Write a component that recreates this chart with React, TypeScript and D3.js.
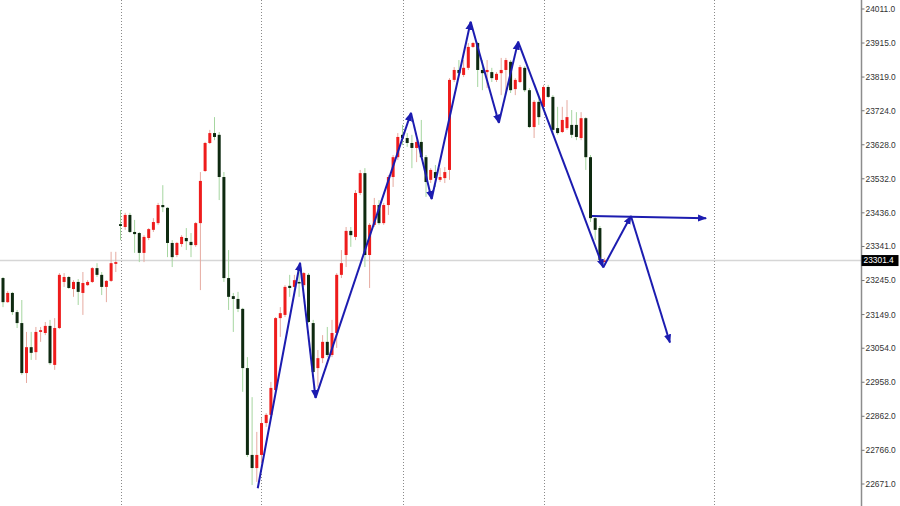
import React from "react";
import * as d3 from "d3";

// OHLC candles (one per bar, left to right)
const opens = [23252,23184,23210,23156,23125,22984,23057,23043,23100,23097,23117,23007,23111,23241,23255,23221,23241,23210,23232,23241,23280,23261,23227,23244,23292,
23404,23396,23430,23382,23379,23323,23365,23388,23407,23458,23450,23351,23317,23348,23365,23354,23345,23407,23554,23633,23661,23656,23537,23252,23201,23193,23165,22998,22753,22716,
22753,22843,22866,22936,23139,23148,23230,23227,23241,23232,23261,23125,22998,23026,23072,23035,23097,23261,23317,23385,23368,23492,23548,23317,23402,23458,23407,23458,23537,23593,
23656,23647,23633,23619,23636,23593,23529,23551,23529,23534,23557,23811,23839,23825,23845,23904,23915,23839,23833,23833,23811,23830,23839,23862,23785,23805,23845,23782,23678,23749,
23735,23791,23763,23675,23664,23675,23684,23684,23647,23703,23593,23421,23393,23300];
const highs = [23255,23215,23213,23162,23190,23100,23100,23114,23114,23128,23134,23139,23266,23266,23258,23246,23249,23269,23246,23283,23294,23269,23246,23326,23326,
23444,23436,23436,23416,23382,23373,23393,23421,23464,23514,23452,23359,23354,23373,23393,23379,23410,23551,23636,23670,23706,23664,23551,23331,23210,23213,23168,23029,22916,22818,
22857,22871,22959,23142,23170,23232,23261,23261,23283,23269,23266,23134,23049,23091,23114,23134,23266,23331,23396,23396,23500,23557,23562,23407,23478,23472,23464,23543,23599,23661,
23684,23661,23656,23641,23698,23599,23562,23571,23562,23565,23816,23847,23867,23867,23915,23918,23918,23867,23867,23845,23833,23873,23873,23867,23816,23853,23850,23788,23754,23760,
23797,23797,23768,23735,23735,23754,23726,23720,23720,23706,23599,23427,23399,23309];
const lows = [23170,23182,23148,23111,22979,22956,23021,23021,23072,23091,23007,22993,23108,23227,23221,23199,23176,23148,23230,23238,23255,23204,23184,23241,23269,
23359,23388,23379,23323,23297,23297,23359,23382,23402,23438,23311,23283,23311,23340,23331,23311,23340,23218,23551,23630,23641,23472,23241,23162,23100,23156,22931,22747,22668,22677,
22730,22832,22860,22931,23086,23142,23199,23213,23199,23227,23125,22984,22945,23012,23029,23029,23055,23252,23283,23340,23359,23486,23283,23224,23396,23402,23402,23430,23509,23585,
23627,23622,23562,23579,23591,23481,23520,23509,23523,23520,23529,23805,23825,23819,23839,23901,23791,23782,23788,23805,23805,23768,23777,23774,23768,23802,23777,23675,23647,23684,
23732,23760,23664,23656,23661,23670,23647,23641,23641,23557,23410,23359,23294,23297];
const closes = [23184,23210,23156,23125,22984,23057,23041,23100,23105,23117,23012,23111,23261,23255,23224,23241,23213,23238,23241,23280,23261,23227,23244,23294,23297,
23399,23430,23382,23376,23323,23368,23390,23410,23458,23452,23351,23311,23351,23368,23356,23345,23407,23526,23633,23661,23650,23537,23252,23199,23193,23165,22998,22753,22716,22753,
22843,22866,22942,23139,23153,23227,23224,23246,23238,23266,23128,22987,23026,23072,23035,23097,23261,23294,23385,23373,23492,23548,23317,23402,23458,23407,23458,23537,23593,23650,
23647,23633,23619,23636,23593,23523,23557,23534,23537,23551,23811,23839,23830,23845,23904,23915,23839,23830,23839,23816,23828,23839,23867,23782,23811,23847,23782,23678,23749,23706,
23791,23763,23670,23661,23698,23706,23656,23650,23703,23593,23421,23388,23303,23301.4];

// Zigzag pattern drawn over the candles: [bar index, price]
const zigzagIdx = [54.2, 63.2, 66.5, 86.8, 91.2, 99.5, 105.5, 109.6, 127.7, 133.6, 141.9];
const zigzagPrice = [22659, 23295, 22914, 23718, 23475, 23975, 23690, 23919, 23282, 23427, 23070];
// Horizontal projection line
const levelIdx = [125.3, 149.6];
const levelPrice = [23427, 23421];

// Axis labels and separators
const tickValues = [24011, 23915, 23819, 23724, 23628, 23532, 23436, 23341, 23245, 23149, 23054, 22958, 22862, 22766, 22671];
const separatorIdx = [25, 55, 85, 115, 151.3];
const lastPrice = 23301.4;

const W = 900;
const H = 506;

export default function App() {
  const x = d3.scaleLinear().domain([0, 150]).range([3, 708]);
  const y = d3.scaleLinear().domain([22671, 24011]).range([484, 9]);
  const axisX = 861.5;
  const bodyW = 3;
  const blue = "#1c1cb0";

  const candles = opens.map((o, i) => ({ o, h: highs[i], l: lows[i], c: closes[i], i }));

  const zz = zigzagIdx.map((d, i) => [x(d), y(zigzagPrice[i])] as [number, number]);

  return (
    <svg width={W} height={H} style={{ position: "absolute", left: 0, top: 0, background: "#fff" }}>
      <defs>
        <marker id="arr" markerUnits="userSpaceOnUse" viewBox="0 -5 10 10" refX="9" refY="0" markerWidth="9" markerHeight="9" orient="auto">
          <path d="M0,-4L10,0L0,4Z" fill={blue} />
        </marker>
      </defs>
      {/* separators */}
      {separatorIdx.map((s, k) => (
        <line key={"s" + k} x1={Math.round(x(s)) + 0.5} x2={Math.round(x(s)) + 0.5} y1={0} y2={H} stroke="#8a8a8a" strokeWidth={1} strokeDasharray="1 2" />
      ))}
      {/* last price line */}
      <line x1={0} x2={axisX} y1={y(lastPrice)} y2={y(lastPrice)} stroke="#d6d6d6" strokeWidth={1.5} />
      {/* candles */}
      {candles.map((d) => {
        const up = d.c >= d.o;
        const cx = x(d.i);
        const top = y(Math.max(d.o, d.c));
        const bot = y(Math.min(d.o, d.c));
        return (
          <g key={d.i}>
            <line x1={cx} x2={cx} y1={y(d.h)} y2={y(d.l)} stroke={up ? "#e6aaa0" : "#a6d6a0"} strokeWidth={1} />
            <rect x={cx - bodyW / 2} y={top} width={bodyW} height={Math.max(1.5, bot - top)} fill={up ? "#ee1c1c" : "#0e2a10"} />
          </g>
        );
      })}
      {/* zigzag */}
      {zz.slice(1).map((p, k) => (
        <line key={"z" + k} x1={zz[k][0]} y1={zz[k][1]} x2={p[0]} y2={p[1]} stroke={blue} strokeWidth={2} markerEnd="url(#arr)" />
      ))}
      <line x1={x(levelIdx[0])} y1={y(levelPrice[0])} x2={x(levelIdx[1])} y2={y(levelPrice[1])} stroke={blue} strokeWidth={2} markerEnd="url(#arr)" />
      {/* right axis */}
      <line x1={axisX} x2={axisX} y1={0} y2={H} stroke="#8c8c8c" strokeWidth={1.5} />
      {tickValues.map((t) => (
        <g key={t} transform={`translate(0,${y(t)})`}>
          <line x1={axisX} x2={axisX + 3} y1={0} y2={0} stroke="#777" strokeWidth={1} />
          <text x={axisX + 4} y={0} dy="0.35em" fontSize={8.4} fontFamily="'Liberation Sans', Arial, sans-serif" fill="#333">
            {t.toFixed(1)}
          </text>
        </g>
      ))}
      <rect x={axisX} y={y(lastPrice) - 5.5} width={37} height={11} fill="#000" />
      <text x={axisX + 2} y={y(lastPrice)} dy="0.35em" fontSize={8.4} fontFamily="'Liberation Sans', Arial, sans-serif" fill="#fff">
        {lastPrice.toFixed(1)}
      </text>
    </svg>
  );
}
